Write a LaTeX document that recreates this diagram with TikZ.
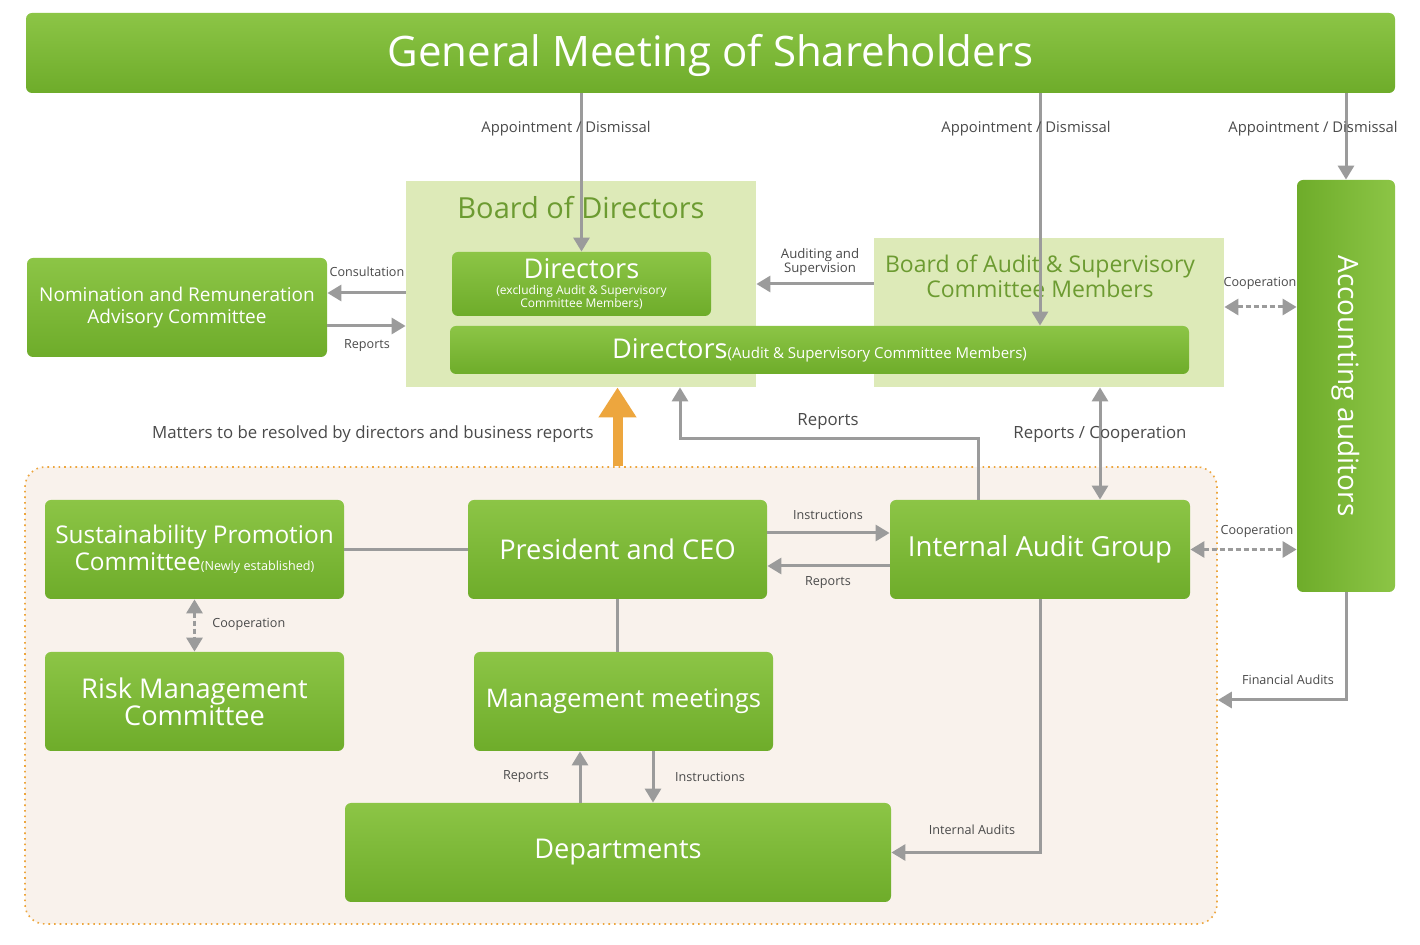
\documentclass[tikz,border=0pt]{standalone}
\usepackage{fontspec}
\setmainfont{Open Sans}
\usetikzlibrary{positioning,arrows.meta}
\definecolor{grtop}{HTML}{8CC546}
\definecolor{grbot}{HTML}{6EAC2A}
\definecolor{pale}{HTML}{DDEAB8}
\definecolor{dkgreen}{HTML}{6C9B31}
\definecolor{arrgray}{HTML}{9B9B9B}
\definecolor{beige}{HTML}{F9F2EC}
\definecolor{orng}{HTML}{EDA63E}
\definecolor{lbltext}{HTML}{4A4A4A}

\begin{document}
\begin{tikzpicture}[x=0.5pt,y=-0.5pt,
  box/.style={rectangle, rounded corners=3pt, top color=grtop, bottom color=grbot,
    text=white, align=center, inner sep=0pt, font=\fontsize{13.6}{15}\selectfont},
  palebox/.style={rectangle, fill=pale, inner sep=0pt},
  lbl/.style={inner sep=1pt, text=lbltext, align=center, font=\fontsize{6.3}{7}\selectfont},
  aplbl/.style={inner sep=1pt, text=lbltext, font=\fontsize{7.4}{8}\selectfont},
  mlbl/.style={inner sep=1pt, text=lbltext, font=\fontsize{8.4}{9}\selectfont},
  arr/.style={draw=arrgray, line width=1.5pt, -{Triangle[width=8pt,length=7pt]}},
  darr/.style={draw=arrgray, line width=1.5pt, {Triangle[width=8pt,length=7pt]}-{Triangle[width=8pt,length=7pt]}},
  dots/.style={dash pattern=on 2.5pt off 1.5pt},
  plain/.style={draw=arrgray, line width=1.5pt}
]
\fill[white] (0,0) rectangle (1420,945);
\useasboundingbox (0,0) rectangle (1420,945);

% top level
\node[box, minimum width=684.5pt, minimum height=40pt, text height=17pt, text depth=3pt, font=\fontsize{21}{24}\selectfont] (gms) at (710.5,53) {General Meeting of Shareholders};

% board of directors area
\node[palebox, minimum width=175pt, minimum height=103pt] (bod) at (581,284) {};
\node[inner sep=0pt, text=dkgreen, font=\fontsize{14.5}{16}\selectfont] (bodtitle) at (581,208) {Board of Directors};
\node[palebox, minimum width=175pt, minimum height=74.5pt] (bascm) at (1049,312.5) {};
\node[inner sep=0pt, text=dkgreen, align=center, font=\fontsize{11.5}{12.5}\selectfont] (bascmtitle) at (1040,276) {Board of Audit \& Supervisory\\Committee Members};
\node[box, minimum width=129.5pt, minimum height=32pt, font=\fontsize{6}{6.8}\selectfont] (dirs) at (581.5,284) {{\fontsize{13.6}{15}\selectfont Directors}\\[1pt](excluding Audit \& Supervisory\\Committee Members)};
\node[box, minimum width=369.5pt, minimum height=24pt] (dirsac) at (819.5,350) {Directors{\fontsize{7.5}{8}\selectfont(Audit \& Supervisory Committee Members)}};
\node[box, minimum width=150pt, minimum height=49.5pt, font=\fontsize{9.5}{11}\selectfont] (nom) at (177,307.5) {Nomination and Remuneration\\Advisory Committee};
\node[box, minimum width=49pt, minimum height=206pt, left color=grbot, right color=grtop] (acc) at (1346,386) {};
\node[text=white, rotate=-90, font=\fontsize{14}{15}\selectfont] (acctext) at (acc.center) {Accounting auditors};

% execution side
\node[rectangle, rounded corners=10pt, fill=beige, draw=orng, line width=0.8pt, dotted,
  minimum width=596pt, minimum height=228.5pt] (outer) at (621,695.5) {};
\node[box, minimum width=149.5pt, minimum height=49.5pt, font=\fontsize{12.2}{13.5}\selectfont] (sus) at (194.5,549.5) {Sustainability Promotion\\Committee{\fontsize{6.3}{7}\selectfont(Newly established)}};
\node[box, minimum width=149.5pt, minimum height=49.5pt, font=\fontsize{13.6}{13.5}\selectfont] (risk) at (194.5,701.5) {Risk Management\\Committee};
\node[box, minimum width=149.5pt, minimum height=49.5pt] (pres) at (617.5,549.5) {President and CEO};
\node[box, minimum width=150pt, minimum height=49.5pt, font=\fontsize{13.8}{15}\selectfont] (iag) at (1040,549.5) {Internal Audit Group};
\node[box, minimum width=149.5pt, minimum height=49.5pt, font=\fontsize{12.8}{15}\selectfont] (mm) at (623.5,701.5) {Management meetings};
\node[box, minimum width=273pt, minimum height=49.5pt] (dept) at (618,852.5) {Departments};

% appointment lines
\draw[arr] (gms.south -| dirs.north) -- (dirs.north);
\draw[arr] (gms.south -| iag.north) -- (dirsac.north -| iag.north);
\draw[arr] (gms.south -| acc.north) -- (acc.north);
\node[aplbl] (ap1) at (566,129) {Appointment / Dismissal};
\node[aplbl] (ap2) at (1026,129) {Appointment / Dismissal};
\node[aplbl] (ap3) at (1313,129) {Appointment / Dismissal};

% board connections
\draw[arr] ([yshift=7.25pt]nom.east -| bod.west) -- ([yshift=7.25pt]nom.east);
\draw[arr] ([yshift=-9.25pt]nom.east) -- ([yshift=-9.25pt]nom.east -| bod.west);
\node[lbl] (cons) at (367,272) {Consultation};
\node[lbl] (rep1) at (367,346) {Reports};
\draw[arr] (bascm.west |- dirs.center) -- (bod.east |- dirs.center);
\node[lbl, font=\fontsize{6.6}{7}\selectfont] (audsup) at (820,262) {Auditing and\\Supervision};
\draw[darr, dots] ([yshift=2.75pt]bascm.east) -- ([yshift=2.75pt]bascm.east -| acc.west);
\node[lbl] (coop1) at (1260,283) {Cooperation};

% reports up to the board
\draw[orng, line width=5pt, -{Triangle[width=18pt,length=15pt]}] (pres.north |- outer.north) -- (pres.north |- bod.south);
\node[mlbl, anchor=east] (matters) at (596,434) {Matters to be resolved by directors and business reports};
\draw[arr] ([xshift=-31pt]iag.north) -- ++(0,-61) -| ([xshift=49.5pt]bod.south);
\node[mlbl] (rep2) at (828,422) {Reports};
\draw[darr] ([xshift=30pt]iag.north) -- ([xshift=30pt]iag.north |- bascm.south);
\node[mlbl] (repcoop) at (1100,434) {Reports / Cooperation};

% execution connections
\draw[plain] (sus.east) -- (pres.west);
\draw[darr, dots] (sus.south) -- (risk.north);
\node[lbl, anchor=west] (coop2) at (210,624) {Cooperation};
\draw[arr] ([yshift=8.25pt]pres.east) -- ([yshift=8.25pt]pres.east -| iag.west);
\draw[arr] ([yshift=-8.25pt]iag.west) -- ([yshift=-8.25pt]iag.west -| pres.east);
\node[lbl] (inst1) at (828,515) {Instructions};
\node[lbl] (rep3) at (828,583) {Reports};
\draw[darr, dots] (iag.east) -- (iag.east -| acc.west);
\node[lbl] (coop3) at (1257,531) {Cooperation};
\draw[plain] (pres.south) -- (pres.south |- mm.north);
\draw[arr] ([xshift=-21.75pt]mm.south |- dept.north) -- ([xshift=-21.75pt]mm.south);
\draw[arr] ([xshift=14.75pt]mm.south) -- ([xshift=14.75pt]mm.south |- dept.north);
\node[lbl] (rep4) at (526,777) {Reports};
\node[lbl] (inst2) at (710,777) {Instructions};
\draw[arr] (iag.south) |- (dept.east);
\node[lbl] (intaud) at (972,830) {Internal Audits};
\draw[arr] (acc.south) |- ([yshift=-2.25pt]outer.east);
\node[lbl] (finaud) at (1288,680) {Financial Audits};
\end{tikzpicture}
\end{document}
